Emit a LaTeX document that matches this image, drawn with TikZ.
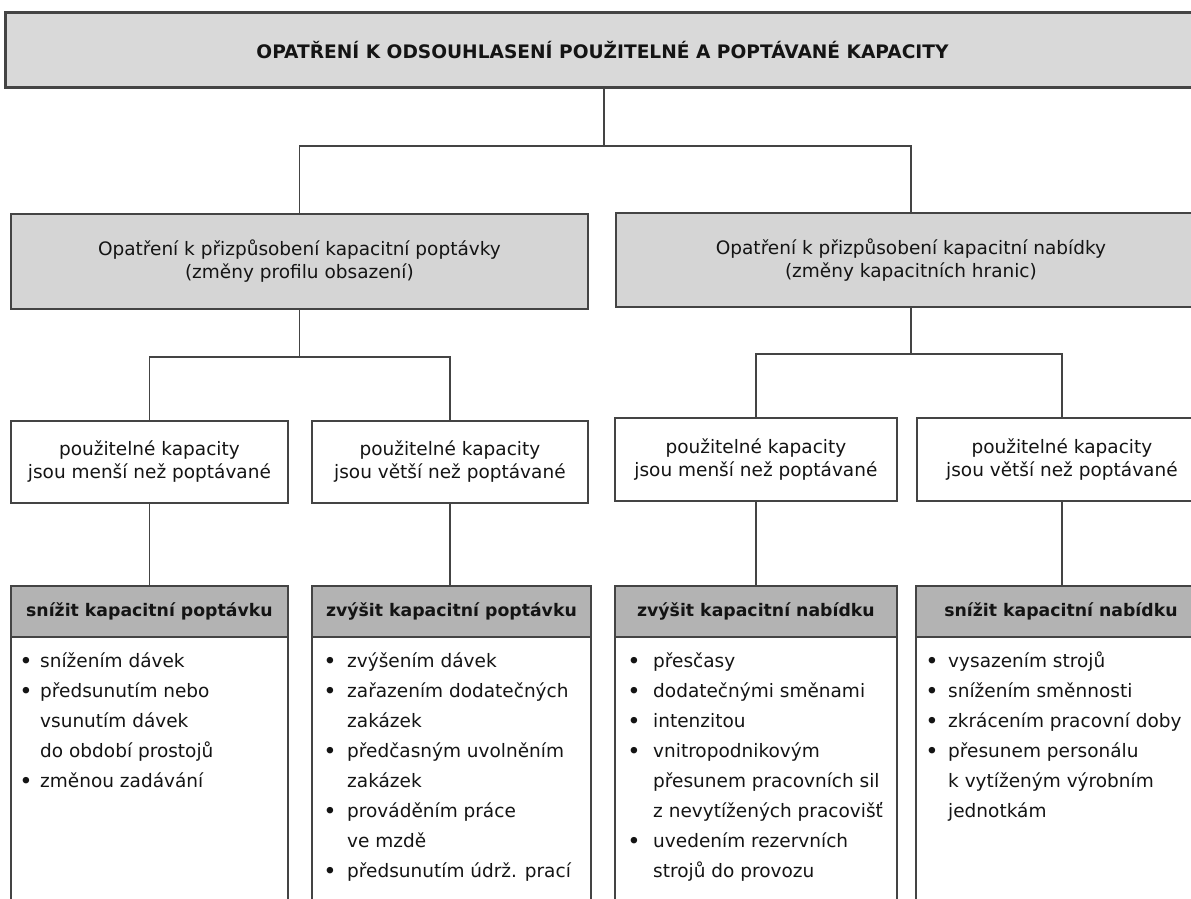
\documentclass[tikz,border=0pt]{standalone}
\usepackage{fontspec}
\setmainfont{DejaVu Sans}

\definecolor{titlegray}{HTML}{D9D9D9}
\definecolor{groupgray}{HTML}{D5D5D5}
\definecolor{headgray}{HTML}{B3B3B3}
\definecolor{edge}{HTML}{444444}
\definecolor{ink}{HTML}{141414}

\tikzset{
  box/.style={draw=edge, line width=1.8pt, rectangle, inner sep=0pt,
    anchor=north west, align=center, text=ink,
    font=\fontsize{18.5}{23}\selectfont},
  titlebox/.style={box, fill=titlegray, line width=3pt,
    font=\bfseries\fontsize{18.6}{22}\selectfont},
  groupbox/.style={box, fill=groupgray},
  casebox/.style={box, fill=white},
  headbox/.style={box, fill=headgray,
    font=\bfseries\fontsize{17.3}{20}\selectfont},
  bodybox/.style={box, fill=white},
  listtext/.style={anchor=north west, inner sep=0pt, text=ink, align=left,
    font=\fontsize{18.5}{30}\selectfont},
  link/.style={draw=edge, line width=1.5pt},
}

% bullet glyph and list: first argument is the gap from bullet to text
\newcommand{\blt}{\textbf{\textbullet}}
\newcommand{\bulletlist}[2]{%
  \begin{tabular}{@{}p{#1pt}@{}l@{}}#2\end{tabular}}

\begin{document}
\begin{tikzpicture}[x=1pt, y=-1pt]
  \useasboundingbox (0,0) rectangle (1191,899);
  \clip (0,0) rectangle (1191,899);

  % top level
  \node[titlebox, minimum width=1194pt, minimum height=75pt] (title) at (4,11)
    {OPATŘENÍ K ODSOUHLASENÍ POUŽITELNÉ A POPTÁVANÉ KAPACITY};

  % second level
  \node[groupbox, minimum width=577pt, minimum height=95pt] (dem) at (10,213)
    {Opatření k přizpůsobení kapacitní poptávky\\(změny profilu obsazení)};
  \node[groupbox, minimum width=590pt, minimum height=94pt] (sup) at (615,212)
    {Opatření k přizpůsobení kapacitní nabídky\\(změny kapacitních hranic)};

  % third level
  \node[casebox, minimum width=277pt, minimum height=82pt] (demLess) at (10,420)
    {použitelné kapacity\\jsou menší než poptávané};
  \node[casebox, minimum width=276pt, minimum height=82pt] (demMore) at (311,420)
    {použitelné kapacity\\jsou větší než poptávané};
  \node[casebox, minimum width=282pt, minimum height=83pt] (supLess) at (614,417)
    {použitelné kapacity\\jsou menší než poptávané};
  \node[casebox, minimum width=290pt, minimum height=83pt] (supMore) at (916,417)
    {použitelné kapacity\\jsou větší než poptávané};

  % measure boxes: body first, heading band on top
  \node[bodybox, minimum width=277pt, minimum height=300pt] (bA) at (10,636) {};
  \node[bodybox, minimum width=279pt, minimum height=300pt] (bB) at (311,636) {};
  \node[bodybox, minimum width=282pt, minimum height=300pt] (bC) at (614,636) {};
  \node[bodybox, minimum width=290pt, minimum height=300pt] (bD) at (915,636) {};

  \node[headbox, minimum width=277pt, minimum height=51pt] (hA) at (10,585)
    {snížit kapacitní poptávku};
  \node[headbox, minimum width=279pt, minimum height=51pt] (hB) at (311,585)
    {zvýšit kapacitní poptávku};
  \node[headbox, minimum width=282pt, minimum height=51pt] (hC) at (614,585)
    {zvýšit kapacitní nabídku};
  \node[headbox, minimum width=290pt, minimum height=51pt] (hD) at (915,585)
    {snížit kapacitní nabídku};

  \node[listtext] (lA) at (20,646) {\bulletlist{20}{%
    \blt & snížením dávek\\
    \blt & předsunutím nebo\\
         & vsunutím dávek\\
         & do období prostojů\\
    \blt & změnou zadávání}};
  \node[listtext] (lB) at (324,646) {\bulletlist{23}{%
    \blt & zvýšením dávek\\
    \blt & zařazením dodatečných\\
         & zakázek\\
    \blt & předčasným uvolněním\\
         & zakázek\\
    \blt & prováděním práce\\
         & ve mzdě\\
    \blt & předsunutím údrž. prací}};
  \node[listtext] (lC) at (628,646) {\bulletlist{25}{%
    \blt & přesčasy\\
    \blt & dodatečnými směnami\\
    \blt & intenzitou\\
    \blt & vnitropodnikovým\\
         & přesunem pracovních sil\\
         & z nevytížených pracovišť\\
    \blt & uvedením rezervních\\
         & strojů do provozu}};
  \node[listtext] (lD) at (926,646) {\bulletlist{22}{%
    \blt & vysazením strojů\\
    \blt & snížením směnnosti\\
    \blt & zkrácením pracovní doby\\
    \blt & přesunem personálu\\
         & k vytíženým výrobním\\
         & jednotkám}};

  % connectors
  \coordinate (j0) at (604,146);
  \coordinate (j1) at (300,357);
  \coordinate (j2) at (911,354);

  \draw[link] (title.south -| j0) -- (j0);
  \draw[link] (dem.north) |- (j0) -| (sup.north);

  \draw[link] (dem.south) -- (dem.south |- j1);
  \draw[link] (demLess.north) |- (j1) -| (demMore.north);
  \draw[link] (sup.south) -- (sup.south |- j2);
  \draw[link] (supLess.north) |- (j2) -| (supMore.north);

  \draw[link] (demLess.south) -- (demLess.south |- hA.north);
  \draw[link] (demMore.south) -- (demMore.south |- hB.north);
  \draw[link] (supLess.south) -- (supLess.south |- hC.north);
  \draw[link] (supMore.south) -- (supMore.south |- hD.north);
\end{tikzpicture}
\end{document}
